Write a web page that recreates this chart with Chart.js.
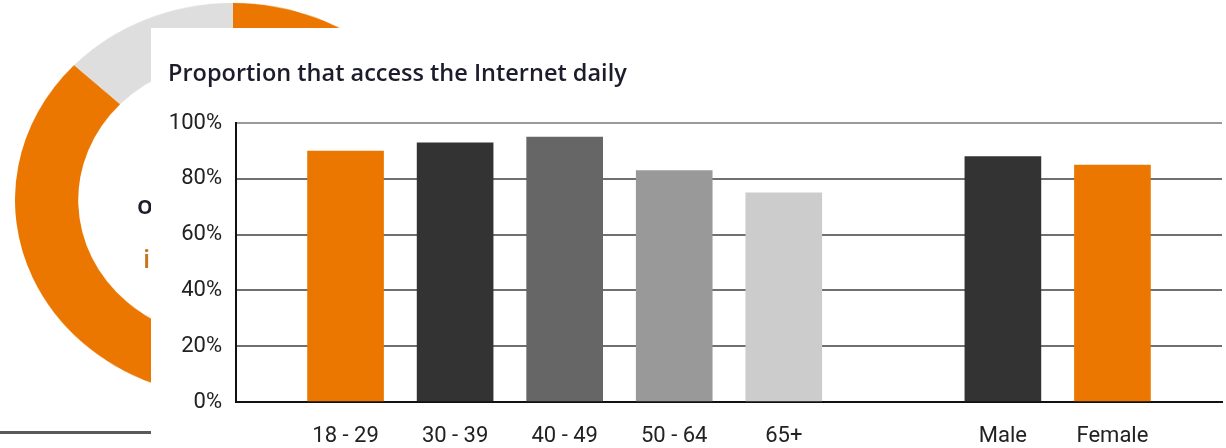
<!DOCTYPE html>
<html>
<head>
<meta charset="utf-8">
<script src="https://cdn.jsdelivr.net/npm/chart.js@4/dist/chart.umd.min.js"></script>
<style>
  html, body { margin: 0; padding: 0; background: #fff; }
  body { width: 1226px; height: 448px; position: relative; overflow: hidden; font-family: Roboto, sans-serif; }
  #donutWrap { position: absolute; left: 15px; top: -18px; width: 436px; height: 436px; transform: scaleY(0.904); transform-origin: 50% 50%; }
  .donutText { position: absolute; font-family: "Open Sans", sans-serif; font-size: 26px; font-weight: 600; }
  #rule { position: absolute; left: 0; top: 431px; width: 151px; height: 3px; background: #5a5a5a; }
  #panel { position: absolute; left: 151px; top: 28px; width: 1075px; height: 420px; background: #fff; }
</style>
</head>
<body>
<div id="donutWrap"><canvas id="donutChart" width="436" height="436"></canvas></div>
<div class="donutText" style="left:137px; top:186px; color:#1c1c2c;">of</div>
<div class="donutText" style="left:143px; top:240px; color:#c8761e;">in</div>
<div id="rule"></div>
<div id="panel"><canvas id="barChart"></canvas></div>
<script>
// Doughnut peeking out behind the panel
const donutShares = [87, 13];
const donutColors = ['#EB7700', '#DEDEDE'];

// Bar chart data
const ageGroups = ['18 - 29', '30 - 39', '40 - 49', '50 - 64', '65+'];
const ageValues = [90, 93, 95, 83, 75];
const ageColors = ['#EB7700', '#333333', '#666666', '#999999', '#CCCCCC'];
const genders = ['Male', 'Female'];
const genderValues = [88, 85];
const genderColors = ['#333333', '#EB7700'];
const yTicks = [0, 20, 40, 60, 80, 100];

// Blank slots keep the gap between the two groups and at both ends
const labels = [''].concat(ageGroups, [''], genders, ['']);
const values = [null].concat(ageValues, [null], genderValues, [null]);
const colors = ['#fff'].concat(ageColors, ['#fff'], genderColors, ['#fff']);

new Chart(document.getElementById('donutChart'), {
    type: 'doughnut',
    data: {
        datasets: [{
            data: donutShares,
            backgroundColor: donutColors,
            borderWidth: 0
        }]
    },
    options: {
        responsive: false,
        animation: false,
        cutout: '71%',
        plugins: { legend: { display: false }, tooltip: { enabled: false } }
    }
});

new Chart(document.getElementById('barChart'), {
    type: 'bar',
    data: {
        labels: labels,
        datasets: [{
            data: values,
            backgroundColor: colors,
            borderWidth: 0,
            barThickness: 76
        }]
    },
    options: {
        responsive: true,
        maintainAspectRatio: false,
        animation: false,
        layout: { padding: { left: 17, right: 4, top: 0, bottom: 0 } },
        scales: {
            x: {
                offset: false,
                // ticks are not drawn (grid hidden) but their length pushes the labels down
                grid: { display: false, drawTicks: true, tickLength: 19 },
                border: { display: true, color: '#111', width: 2 },
                ticks: {
                    color: '#222',
                    font: { family: 'Roboto', size: 22 },
                    padding: 2,
                    autoSkip: false,
                    maxRotation: 0
                },
                afterFit: (scale) => { scale.height = 46; }
            },
            y: {
                min: 0,
                max: 100,
                afterBuildTicks: (scale) => { scale.ticks = yTicks.map(v => ({ value: v })); },
                grid: {
                    drawTicks: false,
                    color: (ctx) => ctx.tick.value === 100 ? '#9a9a9a' : '#707070',
                    lineWidth: 2
                },
                border: { display: true, color: '#111', width: 2 },
                ticks: {
                    color: '#222',
                    font: { family: 'Roboto', size: 22 },
                    padding: 14,
                    callback: (v) => v + '%'
                },
                afterFit: (scale) => { scale.width = 68; }
            }
        },
        plugins: {
            legend: { display: false },
            tooltip: { enabled: false },
            title: {
                display: true,
                text: 'Proportion that access the Internet daily',
                align: 'start',
                color: '#1c1c2c',
                font: { family: 'Open Sans', size: 23.5, weight: '600' },
                padding: { top: 32, bottom: 35 }
            }
        }
    }
});
</script>
</body>
</html>
